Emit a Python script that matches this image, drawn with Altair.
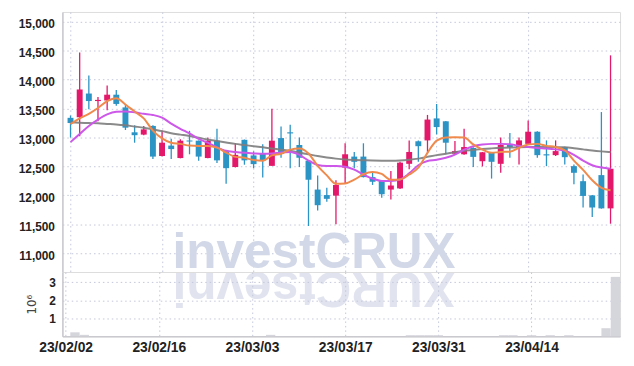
import altair as alt
import pandas as pd

dates = [
    "23/02/02", "23/02/03", "23/02/06", "23/02/07", "23/02/08", "23/02/09", "23/02/10",
    "23/02/13", "23/02/14", "23/02/15", "23/02/16", "23/02/17", "23/02/20", "23/02/21",
    "23/02/22", "23/02/23", "23/02/24", "23/02/27", "23/02/28", "23/03/02", "23/03/03",
    "23/03/06", "23/03/07", "23/03/08", "23/03/09", "23/03/10", "23/03/13", "23/03/14",
    "23/03/15", "23/03/16", "23/03/17", "23/03/20", "23/03/21", "23/03/22", "23/03/23",
    "23/03/24", "23/03/27", "23/03/28", "23/03/29", "23/03/30", "23/03/31", "23/04/03",
    "23/04/04", "23/04/05", "23/04/06", "23/04/07", "23/04/10", "23/04/11", "23/04/12",
    "23/04/13", "23/04/14", "23/04/17", "23/04/18", "23/04/19", "23/04/20", "23/04/21",
    "23/04/24", "23/04/25", "23/04/26", "23/04/27",
]
opens = [13340, 13350, 13760, 13630, 13640, 13740, 13520, 13090, 13050, 13200,
         12680, 12860, 12645, 12950, 12945, 12645, 12945, 12770, 12490, 12960,
         12690, 12730, 12510, 12990, 13090, 12870, 12600, 12100, 12005, 11995,
         12480, 12670, 12670, 12315, 12260, 12100, 12120, 12545, 12935, 12950,
         13330, 13280, 12720, 12710, 12820, 12590, 12745, 12545, 12880, 12835,
         12890, 13100, 12710, 12695, 12835, 12505, 12245, 12000, 12350, 11775]
highs = [13380, 14470, 14070, 13700, 13900, 13820, 13580, 13210, 13200, 13210,
         13120, 12980, 12970, 13115, 12950, 13000, 13150, 12780, 12900, 12965,
         12760, 12885, 13495, 13190, 13220, 13000, 12610, 12345, 12130, 12260,
         12900, 12750, 12900, 12390, 12265, 12420, 12580, 12950, 12950, 13390,
         13580, 13285, 12940, 13150, 12830, 12750, 12750, 13000, 13080, 13000,
         13295, 13110, 12950, 12950, 12840, 12535, 12360, 12005, 13440, 14420]
lows = [13000, 13020, 13490, 13280, 13470, 13550, 13130, 12910, 13040, 12630,
        12670, 12630, 12640, 12710, 12600, 12640, 12560, 12200, 12480, 12530,
        12470, 12310, 12510, 12650, 12470, 12490, 11470, 11740, 11890, 11500,
        12200, 12470, 12310, 12180, 11960, 11930, 12110, 12450, 12580, 12735,
        13050, 12710, 12715, 12700, 12490, 12500, 12290, 12390, 12650, 12535,
        12885, 12650, 12505, 12680, 12535, 12190, 11790, 11625, 11770, 11510]
closes = [13250, 13830, 13630, 13650, 13740, 13580, 13170, 13040, 13140, 12670,
          12910, 12800, 12945, 12930, 12670, 12945, 12605, 12470, 12700, 12605,
          12540, 12605, 12945, 12720, 13070, 12650, 12270, 11830, 11940, 12180,
          12710, 12580, 12315, 12235, 12020, 12170, 12565, 12750, 12850, 13310,
          13180, 12910, 12765, 12835, 12665, 12745, 12580, 12870, 12835, 12950,
          13100, 12695, 12690, 12765, 12660, 12390, 11990, 11790, 11775, 12460]
ma_short = [13230, 13330, 13410, 13510, 13630, 13680, 13570, 13450, 13330, 13120,
            12985, 12910, 12890, 12860, 12855, 12855, 12825, 12740, 12665, 12650,
            12610, 12600, 12690, 12720, 12790, 12810, 12725, 12510, 12345, 12200,
            12205, 12270, 12365, 12405, 12370, 12270, 12275, 12360, 12480, 12735,
            12945, 13000, 13005, 13000, 12880, 12790, 12735, 12750, 12755, 12820,
            12880, 12890, 12855, 12835, 12780, 12600, 12440, 12260, 12130, 12090]
ma_mid = [12920, 13060, 13200, 13310, 13400, 13445, 13450, 13435, 13410, 13390,
          13345, 13240, 13150, 13070, 12975, 12910, 12830, 12770, 12750, 12735,
          12725, 12718, 12722, 12740, 12748, 12700, 12600, 12525, 12506, 12506,
          12495, 12445, 12360, 12290, 12250, 12250, 12275, 12380, 12520, 12595,
          12615, 12650, 12705, 12790, 12850, 12878, 12890, 12890, 12885, 12855,
          12835, 12820, 12810, 12795, 12770, 12700, 12600, 12520, 12480, 12460]
ma_long = [13260, 13255, 13250, 13245, 13235, 13225, 13210, 13190, 13170, 13140,
           13110, 13075, 13050, 13025, 12995, 12965, 12940, 12915, 12890, 12870,
           12850, 12830, 12810, 12790, 12770, 12740, 12710, 12680, 12655, 12635,
           12620, 12612, 12606, 12602, 12600, 12600, 12603, 12615, 12635, 12665,
           12695, 12720, 12745, 12770, 12785, 12800, 12812, 12822, 12828, 12832,
           12834, 12836, 12836, 12834, 12830, 12815, 12795, 12775, 12760, 12748]
volume_m = [0, 0.22, 0.08, 0, 0, 0, 0, 0, 0, 0,
            0, 0, 0, 0, 0, 0, 0, 0, 0, 0,
            0, 0, 0.08, 0, 0, 0, 0, 0, 0, 0,
            0, 0, 0, 0, 0, 0, 0, 0.06, 0.06, 0.06,
            0.06, 0, 0, 0, 0, 0, 0, 0.06, 0.06, 0,
            0.06, 0, 0.06, 0, 0.06, 0, 0, 0, 0.45, 3.3]

price_ticks = [11000, 11500, 12000, 12500, 13000, 13500, 14000, 14500, 15000]
vol_ticks = [1, 2, 3]
date_ticks = [0, 10, 20, 30, 40, 50]

RED = "#e3186b"
BLUE = "#2c93c5"
GRID = "#c3c6da"
FONT = "Liberation Sans"

df = pd.DataFrame({
    "i": list(range(len(dates))), "date": dates, "open": opens, "high": highs,
    "low": lows, "close": closes, "ma_s": ma_short, "ma_m": ma_mid, "ma_l": ma_long,
    "vol": volume_m,
})
df["dir"] = ["up" if c >= o else "down" for o, c in zip(opens, closes)]

label_expr = " : ".join(f"datum.value == {t} ? '{dates[t]}'" for t in date_ticks) + " : ''"

xscale = alt.Scale(domain=[-0.35, 59.5], nice=False, zero=False)
pscale = alt.Scale(domain=[10675, 15170], nice=False, zero=False)
vscale = alt.Scale(domain=[0, 3.57], nice=False, zero=True)
cscale = alt.Scale(domain=["up", "down"], range=[RED, BLUE])

x_top = alt.X("i:Q", scale=xscale, title=None,
              axis=alt.Axis(values=date_ticks, labels=False, ticks=False, domain=False,
                            grid=True, gridColor=GRID, gridDash=[1.5, 3], gridWidth=1))
y_price_axis = alt.Axis(values=price_ticks, format=",.0f", labelFont=FONT, labelFontSize=12,
                        labelFontWeight="bold", labelColor="#222222", ticks=False,
                        domain=True, domainColor="#c9c9cf", domainWidth=1.5,
                        labelPadding=8, labelOffset=2, grid=True, gridColor=GRID,
                        gridDash=[1.5, 3], gridWidth=1, title=None)


def py(field):
    return alt.Y(field, type="quantitative", scale=pscale, axis=y_price_axis)


base = alt.Chart(df).encode(x=x_top)

watermark = alt.Chart(pd.DataFrame({"t": ["investCRUX"]})).mark_text(
    font="Liberation Sans", fontWeight="bold", fontSize=50, color="#d2d8e7",
    align="center", baseline="alphabetic"
).encode(x=alt.value(254.5), y=alt.value(259), text="t:N")

reflection = alt.Chart(pd.DataFrame({"t": ["investCRUX"[::-1]]})).mark_text(
    font="Liberation Sans", fontWeight="bold", fontSize=50, color="#e1e4ef",
    align="center", baseline="alphabetic", angle=180
).encode(x=alt.value(254.5), y=alt.value(263), text="t:N")

wicks = base.mark_rule(strokeWidth=1.3).encode(
    y=py("low"), y2="high:Q",
    color=alt.Color("dir:N", scale=cscale, legend=None))
bodies = base.mark_bar(size=6).encode(
    y=py("open"), y2="close:Q", color=alt.Color("dir:N", scale=cscale, legend=None))

line_long = base.mark_line(color="#7d7d7d", strokeWidth=2, interpolate="monotone",
                           opacity=0.9).encode(y=py("ma_l"))
line_mid = base.mark_line(color="#cc57e8", strokeWidth=2, interpolate="monotone").encode(y=py("ma_m"))
line_short = base.mark_line(color="#ef8a4c", strokeWidth=2, interpolate="monotone").encode(y=py("ma_s"))

price = alt.layer(wicks, watermark, reflection, bodies, line_long, line_mid, line_short).properties(
    width=564, height=263)

x_bot = alt.X("x0:Q", scale=xscale, title=None,
              axis=alt.Axis(values=date_ticks, labelExpr=label_expr, labelFont=FONT,
                            labelFontSize=14, labelFontWeight="bold", labelColor="#222222",
                            ticks=False, domain=True, domainColor="#c9c9cf", domainWidth=1.5,
                            labelPadding=4, grid=True, gridColor=GRID, gridDash=[1.5, 3],
                            gridWidth=1, labelOverlap=False))
volume = alt.Chart(df).transform_filter("datum.vol > 0").transform_calculate(
    x0="datum.i - 0.5", x1="datum.i + 0.5", v0="0"
).mark_rect(color="#d5d5dc").encode(
    x=x_bot, x2="x1:Q",
    y=alt.Y("vol:Q", scale=vscale, stack=None,
            axis=alt.Axis(values=vol_ticks, format="d", labelFont=FONT, labelFontSize=12,
                          labelFontWeight="bold", labelColor="#222222", ticks=False,
                          domain=True, domainColor="#c9c9cf", domainWidth=1.5,
                          labelPadding=7, grid=True, gridColor=GRID, gridDash=[1.5, 3],
                          gridWidth=1, title="10⁶", titleFont="DejaVu Sans",
                          titleFontSize=12, titleFontWeight="normal", titleColor="#444444",
                          titlePadding=11)),
    y2="v0:Q",
).properties(width=564, height=65)

chart = alt.vconcat(price, volume, spacing=0, bounds="flush").properties(
    padding={"left": 9, "top": 1, "right": 5, "bottom": 5}
).configure_view(stroke="#d3d3d9", strokeWidth=1.5).configure(background="white")

chart.save("out.html", embed_options={"renderer": "svg", "actions": False})
